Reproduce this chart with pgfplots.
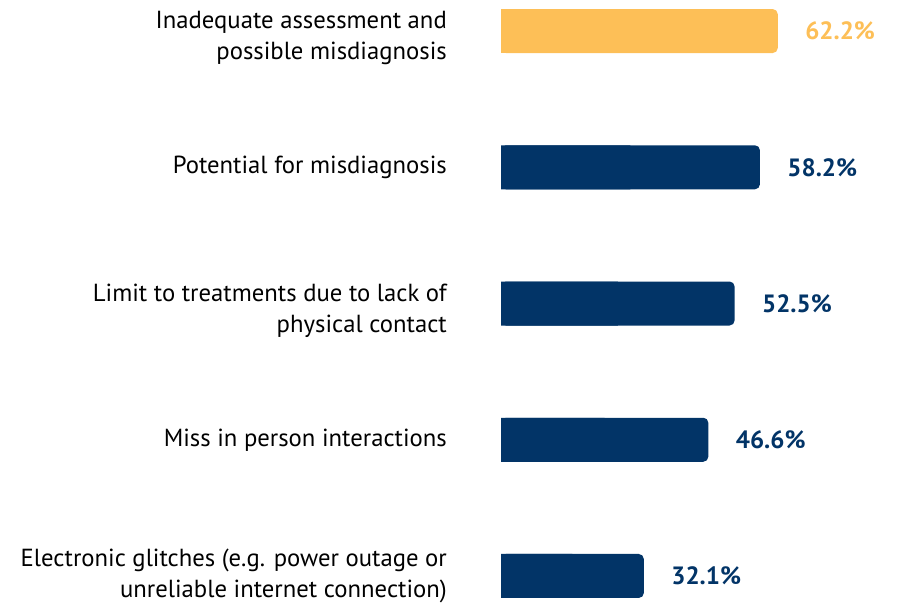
\documentclass[border=0pt]{standalone}
\usepackage{pgfplots}
\pgfplotsset{compat=1.18}
\usepackage{pgfplotstable}
\usepackage{fontspec}
\setmainfont{PT Sans}
\definecolor{navy}{HTML}{023467}
\definecolor{gold}{HTML}{FDBF57}
\pgfplotstableread{
y v
0 32.1
1 46.6
2 52.5
3 58.2
}\navydata
\pgfplotstableread{
y v
4 62.2
}\golddata
\begin{document}
\begin{tikzpicture}
\useasboundingbox (0,0) rectangle (899pt,605pt);
\begin{axis}[
  at={(501pt,0pt)}, anchor=south west,
  scale only axis, width=396pt, height=605pt,
  xmin=0, xmax=89, ymin=-0.213, ymax=4.228,
  axis line style={draw=none},
  xtick=\empty,
  ytick={0,1,1.948,3,3.948},
  yticklabels={{Electronic glitches (e.g. power outage or\\unreliable internet connection)},
               {Miss in person interactions},
               {Limit to treatments due to lack of\\physical contact},
               {Potential for misdiagnosis},
               {Inadequate assessment and\\possible misdiagnosis}},
  major tick length=0pt,
  yticklabel style={font=\fontsize{24.7}{30.5}\selectfont, align=right, anchor=east, inner sep=0pt, xshift=-54pt, text=black},
  xbar, bar width=44pt, bar shift=0pt,
  point meta=x,
  clip=false,
  /pgf/number format/assume math mode=true,
]
\addplot[fill=navy, draw=none, rounded corners=5pt,
  nodes near coords={\pgfmathprintnumber[fixed,precision=1,fixed zerofill,assume math mode=true]{\pgfplotspointmeta}\%},
  nodes near coords style={font=\fontsize{25}{30}\selectfont\bfseries, text=navy, anchor=west, xshift=24pt}]
  table[x=v, y=y] {\navydata};
\addplot[fill=navy, draw=none] table[x expr=\thisrow{v}/2, y=y] {\navydata};
\addplot[fill=gold, draw=none, rounded corners=5pt,
  nodes near coords={\pgfmathprintnumber[fixed,precision=1,fixed zerofill,assume math mode=true]{\pgfplotspointmeta}\%},
  nodes near coords style={font=\fontsize{25}{30}\selectfont\bfseries, text=gold, anchor=west, xshift=24pt}]
  table[x=v, y=y] {\golddata};
\addplot[fill=gold, draw=none] table[x expr=\thisrow{v}/2, y=y] {\golddata};
\end{axis}
\end{tikzpicture}
\end{document}
